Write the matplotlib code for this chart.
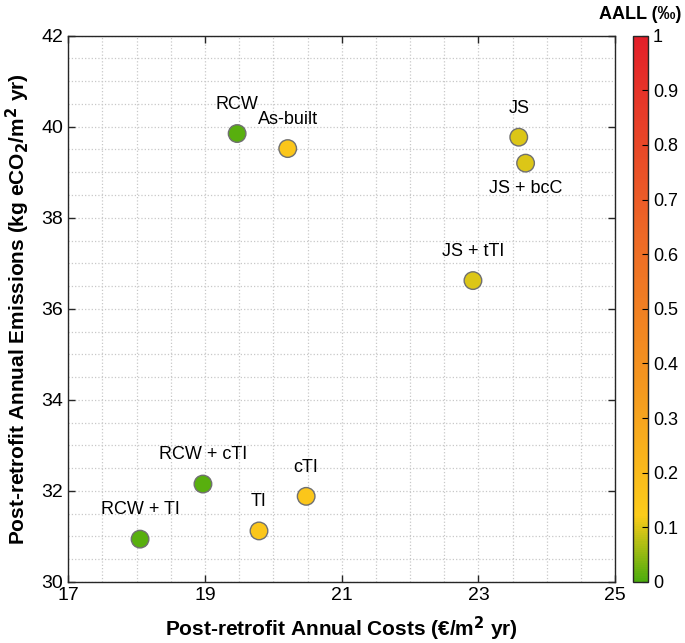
import matplotlib
matplotlib.use("Agg")
import matplotlib.pyplot as plt
from matplotlib.colors import LinearSegmentedColormap
from matplotlib.ticker import MultipleLocator

plt.rcParams['font.family'] = ['Liberation Sans', 'DejaVu Sans']
plt.rcParams['mathtext.default'] = 'regular'

# Dati
labels = ["RCW", "As-built", "JS", "JS + bcC", "JS + tTI",
          "RCW + cTI", "RCW + TI", "TI", "cTI"]
costs = [19.47, 20.21, 23.59, 23.69, 22.92, 18.97, 18.05, 19.79, 20.48]
emissions = [39.85, 39.52, 39.77, 39.20, 36.62, 32.15, 30.94, 31.12, 31.88]
aall = [0.01, 0.15, 0.10, 0.10, 0.10, 0.01, 0.01, 0.15, 0.15]
# posizione etichetta: sopra (1) o sotto (-1)
label_side = [1, 1, 1, -1, 1, 1, 1, 1, 1]
x_ticks = [17, 19, 21, 23, 25]
y_ticks = [30, 32, 34, 36, 38, 40, 42]

cmap = LinearSegmentedColormap.from_list("aall", [
    (0.0, (0.30, 0.68, 0.05)),
    (0.12, (0.99, 0.80, 0.10)),
    (0.35, (0.96, 0.60, 0.12)),
    (0.65, (0.93, 0.40, 0.15)),
    (1.0, (0.89, 0.12, 0.16)),
])

fig = plt.figure(figsize=(6.85, 6.43), dpi=100)
ax = fig.add_axes([0.0997, 0.095, 0.7983, 0.8495])
cax = fig.add_axes([0.924, 0.095, 0.022, 0.8495])

sc = ax.scatter(costs, emissions, c=aall, cmap=cmap, vmin=0, vmax=1,
                s=160, edgecolors='#707070', linewidths=1, zorder=3)

for lab, x, y, side in zip(labels, costs, emissions, label_side):
    off = 21 if side > 0 else -18
    ax.annotate(lab, (x, y), xytext=(0, off), textcoords='offset points',
                ha='center', va='center', fontsize=13, zorder=4)

ax.set_xlim(17, 25)
ax.set_ylim(30, 42)
ax.set_xticks(x_ticks)
ax.set_yticks(y_ticks)
ax.xaxis.set_minor_locator(MultipleLocator(0.5))
ax.yaxis.set_minor_locator(MultipleLocator(0.5))
ax.grid(which='both', linestyle=':', color='#c8c8c8', linewidth=0.9)
ax.set_axisbelow(True)
ax.tick_params(which='major', direction='in', top=True, right=True,
               length=5, width=1, labelsize=14, colors='#262626',
               labelcolor='black')
ax.tick_params(which='minor', length=0)
for sp in ax.spines.values():
    sp.set_color('#262626')
    sp.set_linewidth(1)

ax.set_xlabel(r"Post-retrofit Annual Costs (€/m$^\mathbf{2}$ yr)",
              fontsize=15, fontweight='bold', labelpad=8)
ax.set_ylabel(r"Post-retrofit Annual Emissions (kg eCO$_\mathbf{2}$/m$^\mathbf{2}$ yr)",
              fontsize=15, fontweight='bold', labelpad=7)

cb = fig.colorbar(sc, cax=cax, ticks=[i / 10 for i in range(11)])
cb.ax.set_yticklabels(["0", "0.1", "0.2", "0.3", "0.4", "0.5", "0.6",
                       "0.7", "0.8", "0.9", "1"])
cb.ax.tick_params(direction='in', length=4, labelsize=13)
cb.outline.set_edgecolor('#262626')
cb.outline.set_linewidth(1)
fig.text(0.935, 0.978, "AALL (‰)", ha='center', va='center',
         fontsize=13, fontweight='bold')

fig.savefig("out.png", dpi=100)
